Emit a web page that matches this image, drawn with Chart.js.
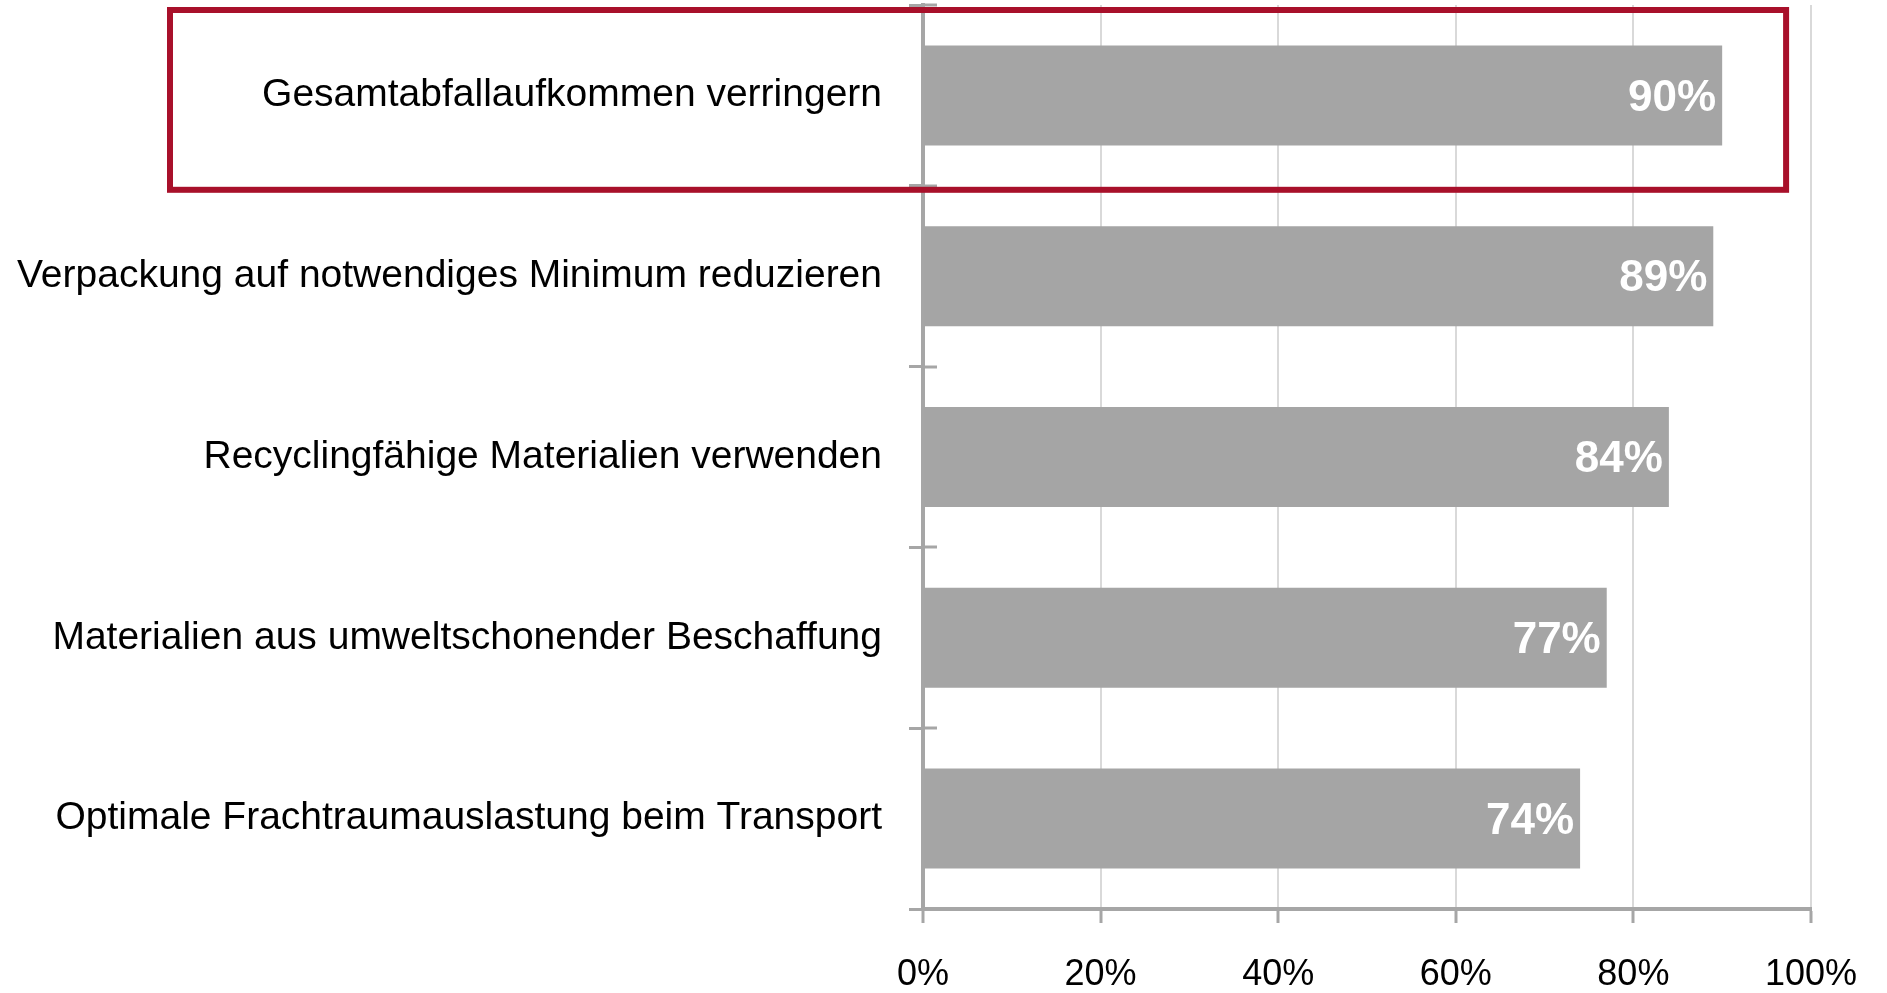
<!DOCTYPE html>
<html>
<head>
<meta charset="utf-8">
<script src="https://cdn.jsdelivr.net/npm/chart.js@4.4.1/dist/chart.umd.min.js"></script>
<style>
    html, body { margin: 0; padding: 0; background: #ffffff; }
    #wrap { width: 1887px; height: 993px; position: relative; }
</style>
</head>
<body>
<div id="wrap"><canvas id="chart"></canvas></div>
<script>
// Chart data
const categories = [
    'Gesamtabfallaufkommen verringern',
    'Verpackung auf notwendiges Minimum reduzieren',
    'Recyclingfähige Materialien verwenden',
    'Materialien aus umweltschonender Beschaffung',
    'Optimale Frachtraumauslastung beim Transport'
];
const shares = [90, 89, 84, 77, 74];
const xTicks = [0, 20, 40, 60, 80, 100];
const highlighted = [0];

const FONT = "'Liberation Sans', Arial, sans-serif";
const AXIS_GREY = '#a6a6a6';

// ticks on the category axis cross the axis line, Chart.js only draws the outer half
const crossTicks = {
    id: 'crossTicks',
    afterDraw(chart) {
        const ctx = chart.ctx;
        const y = chart.scales.y;
        const left = chart.chartArea.left;
        ctx.save();
        ctx.strokeStyle = AXIS_GREY;
        ctx.lineWidth = 3;
        for (let i = 0; i <= categories.length; i++) {
            const py = Math.round(y.getPixelForValue(i - 0.5));
            ctx.beginPath();
            ctx.moveTo(left, py);
            ctx.lineTo(left + 14, py);
            ctx.stroke();
        }
        ctx.restore();
    }
};

// white value labels at the end of each bar
const valueLabels = {
    id: 'valueLabels',
    afterDatasetsDraw(chart) {
        const ctx = chart.ctx;
        const meta = chart.getDatasetMeta(0);
        ctx.save();
        ctx.fillStyle = '#ffffff';
        ctx.font = 'bold 44px ' + FONT;
        ctx.textAlign = 'right';
        ctx.textBaseline = 'middle';
        meta.data.forEach((bar, i) => {
            ctx.fillText(shares[i] + '%', bar.x - 6, bar.y + 3);
        });
        ctx.restore();
    }
};

// red frame around the highlighted row
const highlightBox = {
    id: 'highlightBox',
    afterDraw(chart) {
        const ctx = chart.ctx;
        const x = chart.scales.x;
        const y = chart.scales.y;
        ctx.save();
        ctx.strokeStyle = '#a8102a';
        ctx.lineWidth = 6;
        highlighted.forEach(idx => {
            const top = y.getPixelForValue(idx - 0.5) + 5;
            const bottom = y.getPixelForValue(idx + 0.5) + 4;
            const left = 170;
            const right = x.getPixelForValue(97.2);
            ctx.strokeRect(left, top, right - left, bottom - top);
        });
        ctx.restore();
    }
};

const ctx = document.getElementById('chart').getContext('2d');
new Chart(ctx, {
    type: 'bar',
    data: {
        labels: categories,
        datasets: [{
            data: shares,
            backgroundColor: '#a5a5a5',
            borderWidth: 0,
            barPercentage: 0.553,
            categoryPercentage: 1
        }]
    },
    options: {
        indexAxis: 'y',
        responsive: true,
        maintainAspectRatio: false,
        animation: false,
        layout: {
            padding: { top: 5, right: 74, bottom: 0, left: 0 }
        },
        plugins: {
            legend: { display: false },
            tooltip: { enabled: false }
        },
        scales: {
            x: {
                min: 0,
                max: 100,
                afterBuildTicks(scale) {
                    scale.ticks = xTicks.map(v => ({ value: v }));
                },
                afterFit(scale) {
                    scale.height = 84;
                },
                grid: {
                    color: '#d9d9d9',
                    lineWidth: 2,
                    drawTicks: true,
                    tickLength: 14,
                    tickColor: AXIS_GREY,
                    tickWidth: 3
                },
                border: {
                    display: true,
                    color: AXIS_GREY,
                    width: 4
                },
                ticks: {
                    color: '#000000',
                    padding: 30,
                    font: { family: FONT, size: 36 },
                    callback: v => v + '%'
                }
            },
            y: {
                offset: true,
                afterFit(scale) {
                    scale.width = 923;
                    scale.paddingTop = 0;
                    scale.paddingBottom = 0;
                },
                grid: {
                    offset: true,
                    drawOnChartArea: false,
                    drawTicks: true,
                    tickLength: 14,
                    tickColor: AXIS_GREY,
                    tickWidth: 3
                },
                border: {
                    display: true,
                    color: AXIS_GREY,
                    width: 4
                },
                ticks: {
                    color: '#000000',
                    padding: 27,
                    font: { family: FONT, size: 39 }
                }
            }
        }
    },
    plugins: [crossTicks, valueLabels, highlightBox]
});
</script>
</body>
</html>
